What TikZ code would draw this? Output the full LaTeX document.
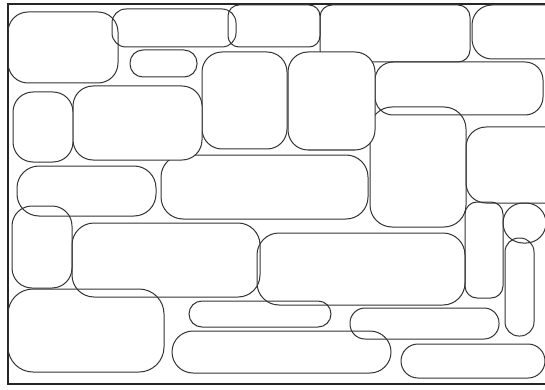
\documentclass[tikz,border=0pt]{standalone}
\begin{document}
\begin{tikzpicture}[x=1pt,y=-1pt]
    \tikzset{khoi/.style={draw=black!80,line width=1pt}}
    % Khung hình
    \clip (0,0) rectangle (545,390);
    \draw[black!85,line width=1.8pt] (8,4) rectangle (580,384);
    
    % Các khối bo góc (x1/y1/x2/y2/bán kính)
    \foreach \a/\b/\c/\d/\r in {8/12/118/83/20, 112/9/236/47/14, 228/5/320/47/11,
        130/50/197/77/13, 202/52/287/149/20, 320/5/470/62/12, 472/5/580/59/20,
        375/62/543/115/18, 370/107/466/227/22, 466/127/580/203/20,
        13/92/73/162/20, 161/155/368/219/22, 17/166/156/216/22,
        12/206/72/288/20, 72/223/260/297/22, 257/233/465/305/22,
        465/202/503/298/12, 503/203/546/243/20, 505/238/534/336/14,
        8/289/164/372/25, 189/301/331/327/13, 350/308/499/339/15,
        172/331/391/373/21, 401/344/545/378/17}
    \draw[khoi,rounded corners=\r pt] (\a,\b) rectangle (\c,\d);
    
    % Các khối che khuất khối phía sau
    \draw[khoi,fill=white,rounded corners=20pt] (288,52) rectangle (375,150);
    \draw[khoi,fill=white,rounded corners=20pt] (73,86) rectangle (202,160);
\end{tikzpicture}
\end{document}
